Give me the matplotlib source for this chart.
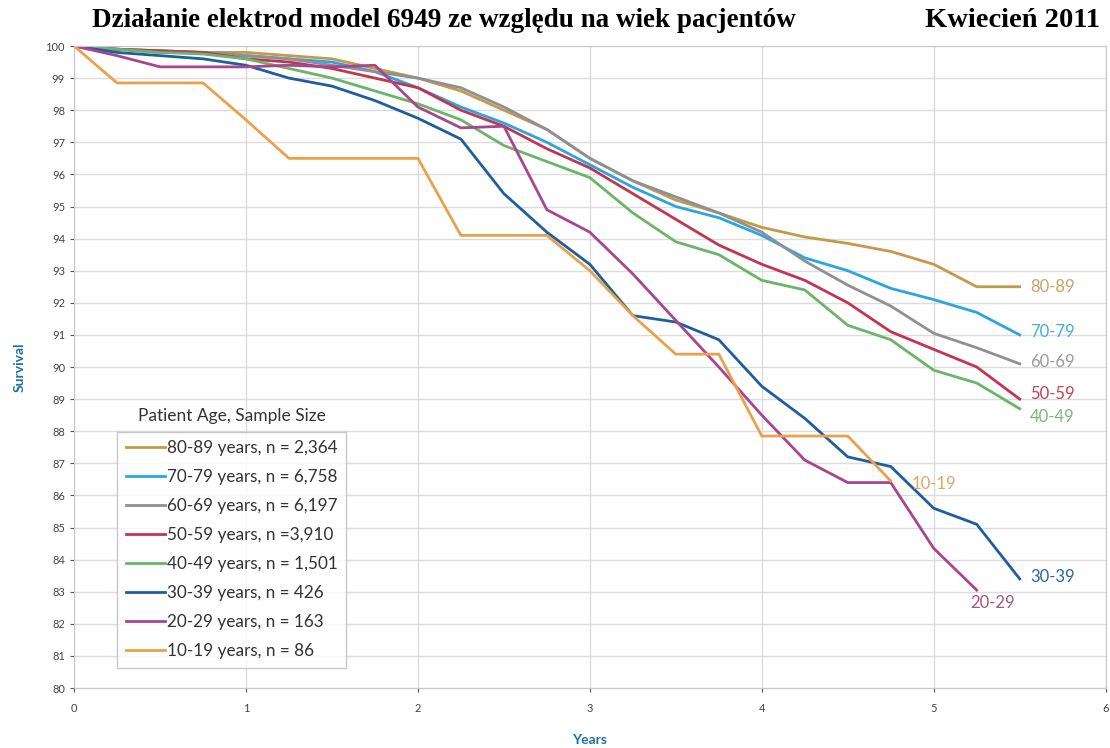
import numpy as np
import matplotlib.pyplot as plt

# time axis, quarter-year steps
years = [0, 0.25, 0.5, 0.75, 1.0, 1.25, 1.5, 1.75, 2.0, 2.25, 2.5, 2.75,
         3.0, 3.25, 3.5, 3.75, 4.0, 4.25, 4.5, 4.75, 5.0, 5.25, 5.5]

s80 = [100, 99.9, 99.85, 99.8, 99.8, 99.7, 99.6, 99.3, 99.0, 98.6, 98.0, 97.4,
       96.5, 95.8, 95.2, 94.8, 94.35, 94.05, 93.85, 93.6, 93.2, 92.5, 92.5]
s70 = [100, 99.9, 99.8, 99.8, 99.7, 99.6, 99.5, 99.2, 98.7, 98.1, 97.6, 97.0,
       96.3, 95.6, 95.0, 94.65, 94.1, 93.4, 93.0, 92.45, 92.1, 91.7, 91.0]
s60 = [100, 99.9, 99.85, 99.8, 99.7, 99.6, 99.4, 99.2, 99.0, 98.7, 98.1, 97.4,
       96.5, 95.8, 95.3, 94.8, 94.2, 93.3, 92.55, 91.9, 91.05, 90.6, 90.1]
s50 = [100, 99.9, 99.85, 99.8, 99.6, 99.5, 99.3, 99.0, 98.7, 98.0, 97.5, 96.8,
       96.2, 95.4, 94.6, 93.8, 93.2, 92.7, 92.0, 91.1, 90.55, 90.0, 89.0]
s40 = [100, 99.9, 99.8, 99.75, 99.6, 99.3, 99.0, 98.6, 98.2, 97.7, 96.9, 96.4,
       95.9, 94.8, 93.9, 93.5, 92.7, 92.4, 91.3, 90.85, 89.9, 89.5, 88.7]
s30 = [100, 99.8, 99.7, 99.6, 99.4, 99.0, 98.75, 98.3, 97.75, 97.1, 95.4, 94.2,
       93.2, 91.6, 91.4, 90.85, 89.4, 88.4, 87.2, 86.9, 85.6, 85.1, 83.4]
s20 = [100, 99.7, 99.35, 99.35, 99.35, 99.4, 99.35, 99.4, 98.1, 97.45, 97.5, 94.9,
       94.2, 92.9, 91.45, 90.0, 88.5, 87.1, 86.4, 86.4, 84.35, 83.05]
s10 = [100, 98.85, 98.85, 98.85, 97.7, 96.5, 96.5, 96.5, 96.5, 94.1, 94.1, 94.1,
       93.0, 91.6, 90.4, 90.4, 87.85, 87.85, 87.85, 86.45]

groups = ["80-89", "70-79", "60-69", "50-59", "40-49", "30-39", "20-29", "10-19"]
sizes = ["2,364", "6,758", "6,197", "=3,910", "1,501", "426", "163", "86"]
series = [s80, s70, s60, s50, s40, s30, s20, s10]

line_cols = ["#c49a48", "#2aa6df", "#8f8f96", "#c3344f", "#6cb46a",
             "#1f5e9c", "#a8458e", "#e9a24c"]
text_cols = ["#c9a264", "#45ade0", "#9a9aa0", "#c2405a", "#78b878",
             "#2a66a6", "#a5557f", "#e2a468"]
# end label positions (x in years, y in survival)
lab_x = [5.56, 5.56, 5.56, 5.56, 5.56, 5.56, 5.21, 4.87]
lab_y = [92.5, 91.1, 90.15, 89.15, 88.45, 83.45, 82.65, 86.35]

fig = plt.figure(figsize=(11.1, 7.48), dpi=100)
ax = fig.add_axes([0.0667, 0.0802, 0.9294, 0.8583])

for i in range(len(series)):
    s = series[i]
    lab = groups[i] + " years, n " + ("" if sizes[i].startswith("=") else "= ") + sizes[i]
    ax.plot(years[:len(s)], s, color=line_cols[i], lw=2.0, label=lab)
    ax.text(lab_x[i], lab_y[i], groups[i], color=text_cols[i], fontsize=12,
            family="Lato", va="center", ha="left")

ax.set_xlim(0, 6)
ax.set_ylim(80, 100)
ax.set_xticks(range(0, 7))
ax.set_yticks(range(80, 101))
ax.grid(True, color="#dcdcdc", lw=1.0)
for sp in ax.spines.values():
    sp.set_color("#c8c8c8")
ax.tick_params(colors="#555555", labelsize=8, length=3, labelcolor="#444444")
for t in ax.get_xticklabels() + ax.get_yticklabels():
    t.set_family("Lato")
ax.tick_params(axis="x", pad=8)

ax.set_xlabel("Years", color="#1f6fa8", fontsize=10, fontweight="bold",
              family="Lato", labelpad=14)
ax.set_ylabel("Survival", color="#1f6fa8", fontsize=10, fontweight="bold",
              family="Lato", labelpad=14)

leg = ax.legend(loc="upper left", bbox_to_anchor=(0.042, 0.399),
                prop={"family": "Lato", "size": 12.3}, frameon=True, fancybox=False,
                handlelength=2.3, handletextpad=0.1, labelspacing=0.76,
                borderpad=0.5, borderaxespad=0)
leg.get_frame().set_edgecolor("#bbbbbb")
leg.get_frame().set_linewidth(1.0)
for t in leg.get_texts():
    t.set_color("#333333")
ax.text(0.153, 0.423, "Patient Age, Sample Size", transform=ax.transAxes,
        ha="center", va="center", fontsize=12.5, family="Lato", color="#333333")

fig.text(0.083, 0.972, "Działanie elektrod model 6949 ze względu na wiek pacjentów",
         family="Liberation Serif", fontweight="bold", fontsize=19.5, va="center")
fig.text(0.991, 0.972, "Kwiecień 2011", family="Liberation Serif",
         fontweight="bold", fontsize=20.5, va="center", ha="right")

fig.savefig("out.png", dpi=100)
